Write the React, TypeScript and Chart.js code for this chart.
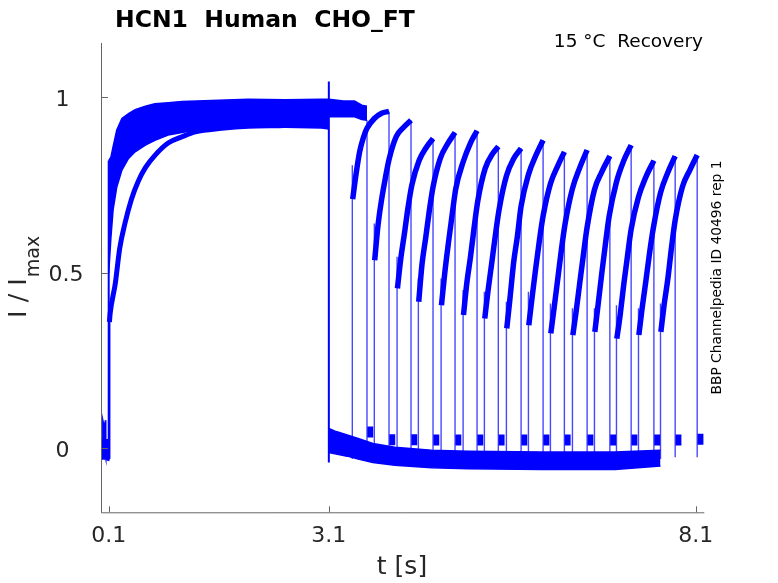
import { useEffect, useRef } from "react";
import Chart from "chart.js/auto";

// baseline before the activating step
const preTime = [0, 0.015, 0.02, 0.04, 0.055, 0.06, 0.1];
const preUpper = [0.025, 0.025, 0.08, 0.06, 0.08, 0.025, 0.025];
const preLower = [-0.03, -0.03, -0.025, -0.03, -0.025, -0.03, -0.035];

// overlapping fast sweeps during the 3 s step
const fastTime = [0.1, 0.13, 0.16, 0.21, 0.28, 0.37, 0.46, 0.6, 0.73, 0.91, 1.1, 1.3, 1.6, 2.0, 2.5, 3.0, 3.1];
const fastUpper = [0.82, 0.83, 0.86, 0.907, 0.94, 0.954, 0.965, 0.975, 0.982, 0.985, 0.988, 0.99, 0.992, 0.995, 0.993, 0.995, 0.995];
const fastLower = [0.5, 0.6, 0.68, 0.745, 0.793, 0.826, 0.845, 0.864, 0.878, 0.893, 0.9, 0.907, 0.912, 0.915, 0.915, 0.913, 0.91];

// first (slow) sweep
const slowTime = [0.11, 0.12, 0.19, 0.25, 0.32, 0.41, 0.5, 0.6, 0.73, 0.91, 1.1, 1.28, 1.64, 2.0, 2.5, 3.1];
const slowValue = [0.36, 0.385, 0.47, 0.57, 0.64, 0.71, 0.76, 0.8, 0.835, 0.87, 0.888, 0.902, 0.912, 0.918, 0.92, 0.925];

// sweep with no gap, held after 3.1 s
const holdTime = [3.1, 3.3, 3.45, 3.55, 3.62];
const holdUpper = [0.995, 0.99, 0.99, 0.978, 0.975];
const holdLower = [0.945, 0.945, 0.945, 0.937, 0.935];

// deactivated baseline after 3.1 s
const baseTime = [3.1, 3.2, 3.35, 3.5, 3.7, 4.0, 4.5, 5.0, 6.0, 7.0, 7.62];
const baseUpper = [0.057, 0.048, 0.038, 0.028, 0.014, 0.003, -0.005, -0.008, -0.01, -0.01, -0.005];
const baseLower = [-0.012, -0.016, -0.022, -0.03, -0.04, -0.048, -0.055, -0.058, -0.06, -0.06, -0.05];

// test pulses
const testStart = [3.1, 3.42, 3.72, 4.03, 4.32, 4.63, 4.93, 5.22, 5.52, 5.82, 6.12, 6.42, 6.72, 7.02, 7.32, 7.62];
const testEnd = [3.62, 3.92, 4.22, 4.52, 4.82, 5.12, 5.41, 5.72, 6.02, 6.31, 6.62, 6.93, 7.22, 7.53, 7.82, 8.12];
const spikeTop = [1.045, 0.807, 0.641, 0.546, 0.484, 0.484, 0.451, 0.446, 0.418, 0.446, 0.413, 0.399, 0.399, 0.408, 0.399, 0.413];
const tailLevel = [0.047, 0.025, 0.025, 0.024, 0.024, 0.024, 0.024, 0.024, 0.024, 0.024, 0.024, 0.024, 0.024, 0.024, 0.024, 0.026];
const testOffset = [0.005, 0.05, 0.1, 0.15, 0.2, 0.3, 0.4];
// values at testOffset, last one at testEnd (sweeps 1..15)
const testCurves = [
  [0.71, 0.78, 0.845, 0.885, 0.912, 0.94, 0.955, 0.96],
  [0.536, 0.635, 0.71, 0.77, 0.823, 0.889, 0.915, 0.935],
  [0.456, 0.54, 0.612, 0.687, 0.749, 0.82, 0.858, 0.883],
  [0.418, 0.525, 0.6, 0.678, 0.745, 0.827, 0.868, 0.9],
  [0.408, 0.5, 0.586, 0.665, 0.74, 0.816, 0.87, 0.905],
  [0.38, 0.47, 0.545, 0.629, 0.705, 0.797, 0.839, 0.86],
  [0.37, 0.45, 0.528, 0.608, 0.68, 0.776, 0.826, 0.855],
  [0.342, 0.43, 0.532, 0.605, 0.69, 0.78, 0.834, 0.878],
  [0.351, 0.43, 0.514, 0.593, 0.662, 0.754, 0.805, 0.845],
  [0.328, 0.4, 0.483, 0.567, 0.64, 0.74, 0.8, 0.85],
  [0.323, 0.39, 0.472, 0.553, 0.63, 0.737, 0.788, 0.833],
  [0.332, 0.41, 0.499, 0.583, 0.661, 0.759, 0.82, 0.864],
  [0.313, 0.38, 0.468, 0.548, 0.624, 0.716, 0.773, 0.82],
  [0.323, 0.4, 0.476, 0.555, 0.625, 0.728, 0.786, 0.833],
  [0.332, 0.41, 0.483, 0.572, 0.65, 0.746, 0.793, 0.836],
];

const xTicks = [0.1, 3.1, 8.1];
const yTicks = [0, 0.5, 1];
const yTickLabels = ["0", "0.5", "1"];

const BLUE = "#0000ff";
const THIN = "rgba(0,0,255,0.72)";
const FONT = "'DejaVu Sans', sans-serif";

type Pt = { x: number; y: number | null };

const zip = (t: number[], v: number[]): Pt[] => t.map((x, i) => ({ x, y: v[i] }));

const line = (data: Pt[], width: number, color = BLUE, extra = {}) => ({
  data,
  borderColor: color,
  backgroundColor: color,
  borderWidth: width,
  pointRadius: 0,
  fill: false,
  spanGaps: false,
  ...extra,
});

function band(t: number[], up: number[], lo: number[]) {
  return [
    line(zip(t, up), 1.5, BLUE, { fill: "+1" }),
    line(zip(t, lo), 1.5),
  ];
}

function buildDatasets() {
  const ds: any[] = [];
  ds.push(...band(preTime, preUpper, preLower));
  ds.push(...band(fastTime, fastUpper, fastLower));
  ds.push(...band(holdTime, holdUpper, holdLower));
  ds.push(...band(baseTime, baseUpper, baseLower));
  ds.push(line(zip(slowTime, slowValue), 5, BLUE, { cubicInterpolationMode: "monotone" }));

  // steps where many sweeps overlap
  const bold: Pt[] = [
    { x: 0.1, y: -0.035 }, { x: 0.1, y: 0.82 }, { x: 0.1, y: null },
    { x: 0.11, y: -0.03 }, { x: 0.11, y: 0.38 }, { x: 0.11, y: null },
    { x: testStart[0], y: -0.04 }, { x: testStart[0], y: spikeTop[0] }, { x: testStart[0], y: null },
  ];
  const thin: Pt[] = [
    { x: testEnd[0], y: holdLower[holdLower.length - 1] }, { x: testEnd[0], y: -0.025 }, { x: testEnd[0], y: null },
  ];
  const tails: Pt[] = [];
  testCurves.forEach((vals, i) => {
    const k = i + 1;
    const s = testStart[k];
    const e = testEnd[k];
    thin.push({ x: s, y: -0.03 }, { x: s, y: spikeTop[k] }, { x: s, y: null });
    thin.push({ x: e, y: vals[vals.length - 1] }, { x: e, y: -0.025 }, { x: e, y: null });
    const body: Pt[] = testOffset.map((o, j) => ({ x: s + o, y: vals[j] }));
    body.push({ x: e, y: vals[vals.length - 1] });
    ds.push(line(body, 5.5, BLUE, { cubicInterpolationMode: "monotone" }));
  });
  testEnd.forEach((e, k) => {
    tails.push({ x: e + 0.004, y: tailLevel[k] }, { x: e + 0.085, y: tailLevel[k] }, { x: e, y: null });
  });
  ds.push(line(bold, 2, BLUE));
  ds.push(line(thin, 1.4, THIN));
  ds.push(line(tails, 11, BLUE, { borderCapStyle: "butt" }));
  return ds;
}

const framePlugin = {
  id: "frame",
  afterDraw(chart: any) {
    const { ctx, chartArea: a } = chart;
    const xs = chart.scales.x;
    const ys = chart.scales.y;
    ctx.save();
    ctx.strokeStyle = "#666666";
    ctx.lineWidth = 1;
    ctx.beginPath();
    ctx.moveTo(a.left + 0.5, a.top);
    ctx.lineTo(a.left + 0.5, a.bottom + 0.5);
    ctx.lineTo(a.right, a.bottom + 0.5);
    xTicks.forEach((v) => {
      const px = Math.round(xs.getPixelForValue(v)) + 0.5;
      ctx.moveTo(px, a.bottom);
      ctx.lineTo(px, a.bottom - 6);
    });
    yTicks.forEach((v) => {
      const py = Math.round(ys.getPixelForValue(v)) + 0.5;
      ctx.moveTo(a.left, py);
      ctx.lineTo(a.left + 7, py);
    });
    ctx.stroke();

    ctx.fillStyle = "#262626";
    ctx.font = `22px ${FONT}`;
    ctx.textAlign = "center";
    ctx.textBaseline = "alphabetic";
    xTicks.forEach((v) => {
      ctx.fillText(String(v), xs.getPixelForValue(v), a.bottom + 29.5);
    });
    yTicks.forEach((v, i) => {
      const cx = yTickLabels[i].length > 1 ? 66 : 62.5;
      ctx.fillText(yTickLabels[i], cx, ys.getPixelForValue(v) + 8.5);
    });

    ctx.font = `25px ${FONT}`;
    ctx.fillText("t [s]", 402, 574);

    ctx.save();
    ctx.translate(26, 318);
    ctx.rotate(-Math.PI / 2);
    ctx.textAlign = "left";
    ctx.font = `25.5px ${FONT}`;
    ctx.fillText("I / I", 0, 0);
    const w = ctx.measureText("I / I").width;
    ctx.font = `19px ${FONT}`;
    ctx.fillText("max", w + 1, 13);
    ctx.restore();

    ctx.fillStyle = "#000000";
    ctx.textAlign = "left";
    ctx.font = `bold 23.5px ${FONT}`;
    ctx.fillText("HCN1  Human  CHO_FT", 115, 26.5);
    ctx.textAlign = "right";
    ctx.font = `18.5px ${FONT}`;
    ctx.fillText("15 °C  Recovery", 703, 47.3);

    ctx.save();
    ctx.translate(721, 277.5);
    ctx.rotate(-Math.PI / 2);
    ctx.textAlign = "center";
    ctx.font = `13.8px ${FONT}`;
    ctx.fillText("BBP Channelpedia ID 40496 rep 1", 0, 0);
    ctx.restore();

    ctx.restore();
  },
};

export default function App() {
  const ref = useRef<HTMLCanvasElement>(null);

  useEffect(() => {
    if (!ref.current) return;
    const chart = new Chart(ref.current, {
      type: "line",
      data: { datasets: buildDatasets() },
      options: {
        responsive: false,
        animation: false,
        devicePixelRatio: 1,
        layout: { padding: { left: 101, right: 73.7, top: 43, bottom: 70.7 } },
        plugins: { legend: { display: false }, tooltip: { enabled: false } },
        scales: {
          x: { type: "linear", min: -0.005, max: 8.217, display: false },
          y: { type: "linear", min: -0.182, max: 1.155, display: false },
        },
      },
      plugins: [framePlugin],
    });
    return () => {
      chart.destroy();
    };
  }, []);

  return (
    <div style={{ position: "absolute", left: 0, top: 0 }}>
      <canvas ref={ref} width={778} height={583} />
    </div>
  );
}
